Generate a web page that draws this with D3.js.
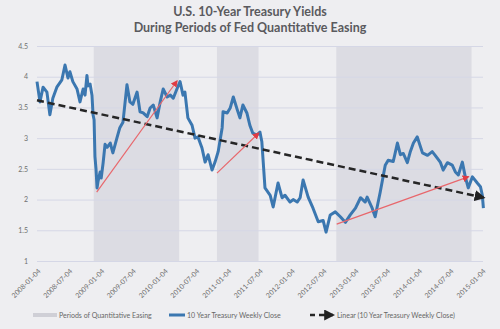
<!DOCTYPE html>
<html>
<head>
<meta charset="utf-8">
<script src="https://cdn.jsdelivr.net/npm/d3@7"></script>
<style>
  body { margin: 0; background: #eeeef1; }
  svg { display: block; }
</style>
</head>
<body>
<div id="chart"></div>
<script>
// chart size
var svgWidth = 500;
var svgHeight = 329;

// weekly close dates and yields
var closeDates = [
  "2008-01-04","2008-01-21","2008-02-08","2008-03-01","2008-03-18","2008-04-04","2008-04-27","2008-05-26",
  "2008-06-13","2008-06-30","2008-07-11","2008-07-28","2008-08-21","2008-09-07","2008-09-25","2008-10-06",
  "2008-10-17","2008-10-23","2008-11-04","2008-11-15","2008-11-21","2008-11-27","2008-12-02","2008-12-08",
  "2008-12-14","2008-12-20","2009-01-01","2009-01-07","2009-01-18","2009-01-29","2009-02-10","2009-02-28",
  "2009-03-15","2009-04-07","2009-04-24","2009-05-12","2009-06-04","2009-06-21","2009-07-08","2009-08-01",
  "2009-08-18","2009-09-05","2009-09-28","2009-10-15","2009-11-02","2009-11-24","2009-12-12","2009-12-29",
  "2010-01-21","2010-02-08","2010-02-25","2010-03-18","2010-04-05","2010-04-22","2010-05-03","2010-05-20",
  "2010-06-13","2010-06-30","2010-07-17","2010-08-09","2010-08-27","2010-09-13","2010-10-06","2010-10-23",
  "2010-11-10","2010-12-03","2010-12-08","2011-01-01","2011-01-18","2011-02-05","2011-02-28","2011-03-15",
  "2011-04-01","2011-04-24","2011-05-11","2011-05-28","2011-06-20","2011-07-08","2011-07-19","2011-08-06",
  "2011-09-05","2011-09-22","2011-10-20","2011-11-12","2011-11-29","2011-12-28","2012-01-15","2012-02-07",
  "2012-02-24","2012-03-12","2012-04-10","2012-05-08","2012-06-07","2012-07-05","2012-07-22","2012-08-15",
  "2012-09-13","2012-10-12","2012-11-10","2012-12-08","2013-01-07","2013-02-05","2013-03-04","2013-03-15",
  "2013-04-13","2013-04-30","2013-05-29","2013-06-27","2013-07-14","2013-08-12","2013-09-05","2013-09-22",
  "2013-10-09","2013-11-01","2013-11-18","2013-12-06","2013-12-28","2014-01-27","2014-02-25","2014-03-24",
  "2014-04-10","2014-05-09","2014-05-26","2014-06-19","2014-07-17","2014-08-04","2014-08-21","2014-09-13",
  "2014-09-30","2014-10-17","2014-11-10","2014-12-08","2014-12-26","2015-01-06","2015-01-12"
];
var closeYields = [
  3.92,3.59,3.83,3.75,3.38,3.65,3.83,3.95,
  4.19,3.98,4.08,3.92,3.80,3.59,3.80,3.70,
  4.02,3.85,3.88,3.70,3.38,3.30,2.70,2.50,
  2.19,2.30,2.45,2.35,2.60,2.90,2.85,2.92,
  2.76,3.00,3.17,3.26,3.87,3.59,3.55,3.75,
  3.43,3.41,3.35,3.49,3.54,3.33,3.59,3.80,
  3.67,3.70,3.65,3.80,3.92,3.70,3.75,3.33,
  3.21,3.00,3.02,2.84,2.61,2.73,2.48,2.61,
  2.78,3.17,3.43,3.41,3.49,3.67,3.46,3.33,
  3.54,3.41,3.21,3.08,3.05,3.10,2.94,2.19,
  2.07,1.88,2.27,2.03,2.07,1.96,2.00,1.96,
  2.03,2.32,2.04,1.86,1.64,1.66,1.47,1.75,
  1.80,1.72,1.63,1.75,1.86,2.03,1.96,2.04,
  1.86,1.72,2.12,2.56,2.64,2.62,2.92,2.73,
  2.75,2.60,2.78,2.92,3.02,2.76,2.72,2.78,
  2.72,2.61,2.48,2.60,2.56,2.45,2.40,2.61,
  2.37,2.19,2.37,2.27,2.21,2.07,1.86
];

// QE periods (start, end)
var qeStarts = ["2008-11-25", "2010-11-03", "2012-09-19"];
var qeEnds   = ["2010-03-31", "2011-06-30", "2014-11-05"];

// red arrows drawn on the chart: from / to
var arrowFromDates = ["2008-12-12", "2010-11-03", "2012-09-21"];
var arrowFromVals  = [2.12, 2.43, 1.60];
var arrowToDates   = ["2010-03-18", "2011-06-30", "2014-10-17"];
var arrowToVals    = [3.93, 3.08, 2.37];

// axis ticks
var xTickLabels = ["2008-01-04","2008-07-04","2009-01-04","2009-07-04","2010-01-04","2010-07-04",
  "2011-01-04","2011-07-04","2012-01-04","2012-07-04","2013-01-04","2013-07-04",
  "2014-01-04","2014-07-04","2015-01-04"];
var yTickValues = [1, 1.5, 2, 2.5, 3, 3.5, 4, 4.5];

var legendLabels = ["Periods of Quantitative Easing", "10 Year Treasury Weekly Close",
  "Linear (10 Year Treasury Weekly Close)"];

var parseDate = d3.utcParse("%Y-%m-%d");

var margin = { top: 46, right: 18, bottom: 68, left: 37 };
var chartWidth = 482 - margin.left;
var chartHeight = 261 - margin.top;

var svg = d3.select("#chart")
  .append("svg")
  .attr("width", svgWidth)
  .attr("height", svgHeight)
  .style("font-family", "Lato, 'Open Sans', sans-serif");

svg.append("rect")
  .attr("width", svgWidth).attr("height", svgHeight)
  .attr("fill", "#eeeef1");

// title
svg.append("text")
  .attr("x", 250).attr("y", 16)
  .attr("text-anchor", "middle")
  .attr("font-size", 12.5).attr("font-weight", 700).attr("fill", "#5a5a5e")
  .text("U.S. 10-Year Treasury Yields");
svg.append("text")
  .attr("x", 250).attr("y", 32)
  .attr("text-anchor", "middle")
  .attr("font-size", 12.5).attr("font-weight", 700).attr("fill", "#5a5a5e")
  .text("During Periods of Fed Quantitative Easing");

var chartGroup = svg.append("g")
  .attr("transform", `translate(${margin.left}, ${margin.top})`);

var xTimeScale = d3.scaleUtc()
  .domain([parseDate(xTickLabels[0]), parseDate(xTickLabels[xTickLabels.length - 1])])
  .range([0, chartWidth]);

var yLinearScale = d3.scaleLinear()
  .domain([1, 4.5])
  .range([chartHeight, 0]);

// QE shading
chartGroup.selectAll("rect.qe")
  .data(qeStarts)
  .enter()
  .append("rect")
  .attr("class", "qe")
  .attr("x", (d) => xTimeScale(parseDate(d)))
  .attr("y", yLinearScale(4.5))
  .attr("width", (d, i) => xTimeScale(parseDate(qeEnds[i])) - xTimeScale(parseDate(d)))
  .attr("height", yLinearScale(1) - yLinearScale(4.5))
  .attr("fill", "#dcdce3");

// y axis with gridlines
var leftAxis = d3.axisLeft(yLinearScale)
  .tickValues(yTickValues)
  .tickFormat(d3.format(""))
  .tickSize(-(chartWidth + 1))
  .tickPadding(9);

var yAxisG = chartGroup.append("g").call(leftAxis);
yAxisG.select(".domain").remove();
yAxisG.selectAll("line").attr("stroke", "#d5d7e6").attr("stroke-width", 1);
yAxisG.selectAll("text").attr("font-size", 7).attr("fill", "#707070").attr("font-family", "Lato, sans-serif");

// x axis labels rotated
var bottomAxis = d3.axisBottom(xTimeScale)
  .tickValues(xTickLabels.map(parseDate))
  .tickFormat(d3.utcFormat("%Y-%m-%d"))
  .tickSize(0)
  .tickPadding(0);

var xAxisG = chartGroup.append("g")
  .attr("transform", `translate(0, ${chartHeight})`)
  .call(bottomAxis);
xAxisG.select(".domain").remove();
xAxisG.selectAll("text")
  .attr("font-size", 7).attr("fill", "#707070").attr("font-family", "Lato, sans-serif")
  .attr("text-anchor", "end")
  .attr("dy", "0.35em")
  .attr("transform", "translate(2, 9) rotate(-45)");

// markers for arrows
var defs = svg.append("defs");
defs.append("marker")
  .attr("id", "redHead")
  .attr("viewBox", "0 0 10 10").attr("refX", 8).attr("refY", 5)
  .attr("markerWidth", 7).attr("markerHeight", 7).attr("markerUnits", "userSpaceOnUse")
  .attr("orient", "auto")
  .append("path").attr("d", "M0,0 L10,5 L0,10 Z").attr("fill", "#e03c44");
defs.append("marker")
  .attr("id", "blackHead")
  .attr("viewBox", "0 0 10 10").attr("refX", 8).attr("refY", 5)
  .attr("markerWidth", 11).attr("markerHeight", 11).attr("markerUnits", "userSpaceOnUse")
  .attr("orient", "auto")
  .append("path").attr("d", "M0,0 L10,5 L0,10 Z").attr("fill", "#222");

// the weekly close line
var points = closeDates.map((d, i) => ({ date: parseDate(d), value: closeYields[i] }));

var yieldLine = d3.line()
  .x((d) => xTimeScale(d.date))
  .y((d) => yLinearScale(d.value));

chartGroup.append("path")
  .datum(points)
  .attr("fill", "none")
  .attr("stroke", "#3b77b0")
  .attr("stroke-width", 3)
  .attr("stroke-linejoin", "round")
  .attr("d", yieldLine);

// linear trend (least squares on the weekly closes)
var xs = points.map((d) => +d.date);
var ys = points.map((d) => d.value);
var xMean = d3.mean(xs), yMean = d3.mean(ys);
var slope = d3.sum(xs, (x, i) => (x - xMean) * (ys[i] - yMean)) / d3.sum(xs, (x) => (x - xMean) * (x - xMean));
var intercept = yMean - slope * xMean;
var trendEnds = [points[0].date, points[points.length - 1].date];

chartGroup.append("line")
  .attr("x1", xTimeScale(trendEnds[0]))
  .attr("y1", yLinearScale(slope * +trendEnds[0] + intercept))
  .attr("x2", xTimeScale(trendEnds[1]))
  .attr("y2", yLinearScale(slope * +trendEnds[1] + intercept))
  .attr("stroke", "#262626")
  .attr("stroke-width", 2.5)
  .attr("stroke-dasharray", "7,4")
  .attr("marker-end", "url(#blackHead)");

// red arrows
chartGroup.selectAll("line.arrow")
  .data(arrowFromDates)
  .enter()
  .append("line")
  .attr("class", "arrow")
  .attr("x1", (d) => xTimeScale(parseDate(d)))
  .attr("y1", (d, i) => yLinearScale(arrowFromVals[i]))
  .attr("x2", (d, i) => xTimeScale(parseDate(arrowToDates[i])))
  .attr("y2", (d, i) => yLinearScale(arrowToVals[i]))
  .attr("stroke", "#e8676c")
  .attr("stroke-width", 1.2)
  .attr("marker-end", "url(#redHead)");

// legend
var legend = svg.append("g").attr("transform", "translate(0, 315)");
legend.append("rect")
  .attr("x", 33).attr("y", -2).attr("width", 24).attr("height", 4)
  .attr("fill", "#cfcfd6");
legend.append("text")
  .attr("x", 59).attr("y", 2.5)
  .attr("font-size", 7).attr("fill", "#666")
  .text(legendLabels[0]);

legend.append("line")
  .attr("x1", 169).attr("x2", 185).attr("y1", 0).attr("y2", 0)
  .attr("stroke", "#3b77b0").attr("stroke-width", 3);
legend.append("text")
  .attr("x", 187).attr("y", 2.5)
  .attr("font-size", 7).attr("fill", "#666")
  .text(legendLabels[1]);

legend.append("line")
  .attr("x1", 310).attr("x2", 315).attr("y1", 0).attr("y2", 0)
  .attr("stroke", "#262626").attr("stroke-width", 2.5);
legend.append("line")
  .attr("x1", 319).attr("x2", 333).attr("y1", 0).attr("y2", 0)
  .attr("stroke", "#262626").attr("stroke-width", 2.5)
  .attr("marker-end", "url(#blackHead)");
legend.append("text")
  .attr("x", 337).attr("y", 2.5)
  .attr("font-size", 7).attr("fill", "#666")
  .text(legendLabels[2]);
</script>
</body>
</html>
